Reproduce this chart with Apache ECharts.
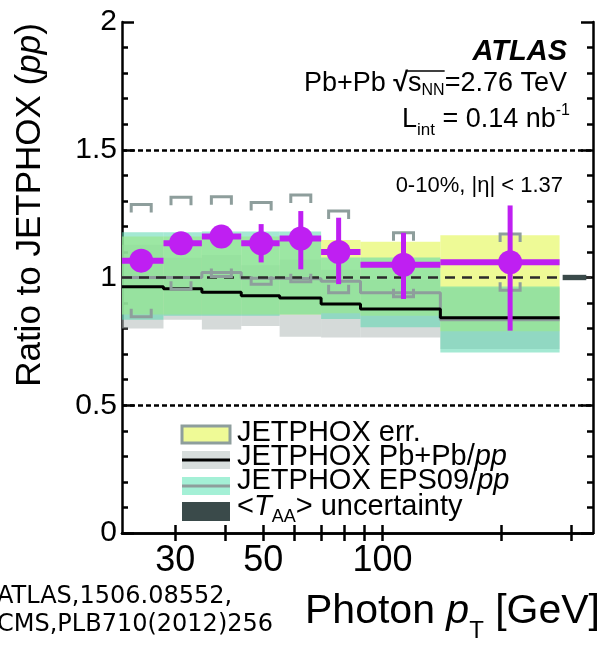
<!DOCTYPE html>
<html>
<head>
<meta charset="utf-8">
<script src="https://cdn.jsdelivr.net/npm/echarts@6/dist/echarts.min.js"></script>
<style>
html,body{margin:0;padding:0;background:#fff;}
#chart{width:601px;height:649px;}
</style>
</head>
<body>
<div id="chart"></div>
<script>
// ---------------- data ----------------
const binLo = [22, 28, 35, 44, 55, 70, 88, 140];
const binHi = [28, 35, 44, 55, 70, 88, 140, 280];
const ptCenter = [24.6, 31.0, 39.2, 49.4, 62.2, 77.5, 113, 210];
const ratio = [1.066, 1.134, 1.160, 1.134, 1.153, 1.100, 1.050, 1.060];
const statUp = [0.03, 0.03, 0.04, 0.075, 0.107, 0.134, 0.125, 0.222];
const statDown = [0.03, 0.03, 0.04, 0.075, 0.121, 0.126, 0.134, 0.268];
const systErr = [0.22, 0.18, 0.156, 0.16, 0.17, 0.16, 0.125, 0.11];

const jpErrLo = [0.855, 0.855, 0.855, 0.855, 0.855, 0.86, 0.85, 0.79];
const jpErrHi = [1.16, 1.16, 1.16, 1.16, 1.16, 1.147, 1.14, 1.165];

const pbpbCentral = [0.964, 0.956, 0.942, 0.929, 0.920, 0.896, 0.877, 0.842];
const pbpbLo = [0.800, 0.835, 0.796, 0.810, 0.768, 0.765, 0.765, 0.72];
const pbpbHi = [1.128, 1.077, 1.088, 1.048, 1.070, 1.030, 0.990, 0.96];

const eps09Central = [1.0, 1.0, 1.02, 0.997, 0.995, 0.985, 0.94, 0.835];
const eps09Lo = [0.835, 0.85, 0.85, 0.85, 0.855, 0.838, 0.805, 0.706];
const eps09Hi = [1.177, 1.177, 1.18, 1.18, 1.18, 1.078, 1.078, 0.965];

const taaRange = [285, 327];
const taaLo = 0.9895, taaHi = 1.0105;

const xLabelValues = [30, 50, 100];
const xTickValues = [30, 40, 50, 60, 70, 80, 90, 100, 200, 300];
const yLevelsDotted = [0.5, 1.5];
const yLevelUnity = 1;

// ---------------- helpers ----------------
const FONT = "'Liberation Sans', Arial, sans-serif";
const measureCtx = document.createElement('canvas').getContext('2d');
function pieces(list, anchorX, y, align, posOut) {
  const widths = list.map(p => { measureCtx.font = p.font; return measureCtx.measureText(p.t).width + (p.gap || 0); });
  const total = widths.reduce((a, b) => a + b, 0);
  let x = align === 'right' ? anchorX - total : align === 'center' ? anchorX - total / 2 : anchorX;
  return list.map((p, i) => {
    const el = { type: 'text', style: { text: p.t, x: x + (p.dx || 0), y: y + (p.dy || 0), font: p.font, fill: p.fill || '#000', textAlign: 'left', textVerticalAlign: 'middle' } };
    if (posOut) posOut.push([x, x + widths[i]]);
    x += widths[i];
    return el;
  });
}

function bandSeries(name, lo, hi, color, z) {
  return {
    name, type: 'custom', z, silent: true,
    data: binLo.map((l, i) => [l, binHi[i], lo[i], hi[i]]),
    encode: { x: [0, 1], y: [2, 3] },
    renderItem: (params, api) => {
      const p0 = api.coord([api.value(0), api.value(3)]);
      const p1 = api.coord([api.value(1), api.value(2)]);
      return { type: 'rect', shape: { x: p0[0], y: p0[1], width: p1[0] - p0[0], height: p1[1] - p0[1] }, style: { fill: color } };
    }
  };
}
function stepData(vals) {
  const d = binLo.map((l, i) => [l, vals[i]]);
  d.push([binHi[binHi.length - 1], vals[vals.length - 1]]);
  return d;
}

const PURPLE = '#BF1FF2';
const BRACKET = '#8E9E9C';

const series = [
  bandSeries('JETPHOX Pb+Pb/pp band', pbpbLo, pbpbHi, 'rgba(178,188,186,0.55)', 1),
  bandSeries('JETPHOX err.', jpErrLo, jpErrHi, 'rgba(232,248,110,0.72)', 2),
  bandSeries('JETPHOX EPS09/pp band', eps09Lo, eps09Hi, 'rgba(90,215,175,0.55)', 3),
  {
    name: 'EPS09 central', type: 'line', z: 4, step: 'end', symbol: 'none', silent: true,
    data: stepData(eps09Central), lineStyle: { color: BRACKET, width: 3 }
  },
  {
    name: 'Pb+Pb central', type: 'line', z: 5, step: 'end', symbol: 'none', silent: true,
    data: stepData(pbpbCentral), lineStyle: { color: '#000', width: 3 }
  },
  {
    name: 'reference lines', type: 'line', z: 6, data: [], silent: true,
    markLine: {
      symbol: 'none', silent: true, label: { show: false },
      data: [
        { yAxis: yLevelUnity, lineStyle: { color: '#2b2b2b', width: 2.5, type: [10, 7] } },
        { yAxis: yLevelsDotted[0], lineStyle: { color: '#000', width: 2.5, type: [5, 3] } },
        { yAxis: yLevelsDotted[1], lineStyle: { color: '#000', width: 2.5, type: [5, 3] } }
      ]
    }
  },
  {
    name: 'TAA uncertainty', type: 'custom', z: 7, silent: true,
    data: [[taaRange[0], taaRange[1], taaLo, taaHi]],
    encode: { x: [0, 1], y: [2, 3] },
    renderItem: (params, api) => {
      const p0 = api.coord([api.value(0), api.value(3)]);
      const p1 = api.coord([api.value(1), api.value(2)]);
      return { type: 'rect', shape: { x: p0[0], y: p0[1], width: p1[0] - p0[0], height: p1[1] - p0[1] }, style: { fill: '#3A4A4A' } };
    }
  },
  {
    name: 'syst', type: 'custom', z: 8, silent: true,
    data: ptCenter.map((c, i) => [c, ratio[i] - systErr[i], ratio[i] + systErr[i]]),
    encode: { x: 0, y: [1, 2] },
    renderItem: (params, api) => {
      const lo = api.coord([api.value(0), api.value(1)]);
      const hi = api.coord([api.value(0), api.value(2)]);
      const bw = 10, leg = 8, x = lo[0];
      const st = { stroke: BRACKET, lineWidth: 3, fill: null };
      return {
        type: 'group', children: [
          { type: 'polyline', shape: { points: [[x - bw, hi[1] + leg], [x - bw, hi[1]], [x + bw, hi[1]], [x + bw, hi[1] + leg]] }, style: st },
          { type: 'polyline', shape: { points: [[x - bw, lo[1] - leg], [x - bw, lo[1]], [x + bw, lo[1]], [x + bw, lo[1] - leg]] }, style: st }
        ]
      };
    }
  },
  {
    name: 'data bars', type: 'custom', z: 9, silent: true,
    data: ptCenter.map((c, i) => [c, binLo[i], binHi[i], ratio[i], ratio[i] - statDown[i], ratio[i] + statUp[i]]),
    encode: { x: [1, 2], y: [4, 5] },
    renderItem: (params, api) => {
      const a = api.coord([api.value(1), api.value(3)]);
      const b = api.coord([api.value(2), api.value(3)]);
      const lo = api.coord([api.value(0), api.value(4)]);
      const hi = api.coord([api.value(0), api.value(5)]);
      return {
        type: 'group', children: [
          { type: 'line', shape: { x1: a[0], y1: a[1], x2: b[0], y2: b[1] }, style: { stroke: PURPLE, lineWidth: 6 } },
          { type: 'line', shape: { x1: lo[0], y1: lo[1], x2: hi[0], y2: hi[1] }, style: { stroke: PURPLE, lineWidth: 5 } }
        ]
      };
    }
  },
  {
    name: 'data', type: 'scatter', z: 10, silent: true,
    symbol: 'circle', symbolSize: 24,
    itemStyle: { color: PURPLE, opacity: 1 },
    data: ptCenter.map((c, i) => [c, ratio[i]])
  }
];

const axisLineStyle = { color: '#000', width: 2.5 };
const xAxisBase = {
  type: 'log', logBase: 10, min: 22, max: 340,
  axisLine: { show: true, lineStyle: axisLineStyle },
  axisTick: { show: true, inside: true, length: 8, customValues: xTickValues, lineStyle: { color: '#000', width: 2.5 } },
  minorTick: { show: false },
  splitLine: { show: false }
};
const yAxisBase = {
  type: 'value', min: 0, max: 2, interval: 0.5,
  axisLine: { show: true, lineStyle: axisLineStyle },
  axisTick: { show: true, inside: true, length: 12, lineStyle: { color: '#000', width: 2.5 } },
  minorTick: { show: true, splitNumber: 5, length: 6, lineStyle: { color: '#000', width: 2.5 } },
  splitLine: { show: false }
};

const graphics = [];
// ATLAS label block
graphics.push(...pieces([{ t: 'ATLAS', font: 'italic bold 29px ' + FONT }], 567, 52, 'right'));
const sqrtPos = [];
graphics.push(...pieces([
  { t: 'Pb+Pb ', font: '27px ' + FONT },
  { t: '\u221A', font: 'bold 27px ' + FONT },
  { t: 's', font: '27px ' + FONT },
  { t: 'NN', font: '16px ' + FONT, dy: 7 },
  { t: '=2.76 TeV', font: '27px ' + FONT }
], 567, 84, 'right', sqrtPos));
graphics.push({ type: 'line', shape: { x1: sqrtPos[1][1] - 2, y1: 71, x2: sqrtPos[3][1], y2: 71 }, style: { stroke: '#000', lineWidth: 1.5 } });
graphics.push(...pieces([
  { t: 'L', font: '27px ' + FONT },
  { t: 'int', font: '17px ' + FONT, dy: 10 },
  { t: ' = 0.14 nb', font: '27px ' + FONT },
  { t: '-1', font: '16px ' + FONT, dy: -9 }
], 570, 120, 'right'));
graphics.push(...pieces([{ t: '0-10%, |\u03B7| < 1.37', font: '22px ' + FONT }], 563, 186, 'right'));

// Legend
const legX = 182, legW = 48, legTextX = 237;
graphics.push({ type: 'rect', shape: { x: legX, y: 426, width: legW, height: 17 }, style: { fill: '#EFFA96', stroke: '#8E9E9C', lineWidth: 3 } });
graphics.push({ type: 'rect', shape: { x: legX, y: 451, width: legW, height: 18 }, style: { fill: '#D7DDDC' } });
graphics.push({ type: 'line', shape: { x1: legX, y1: 460, x2: legX + legW, y2: 460 }, style: { stroke: '#000', lineWidth: 3 } });
graphics.push({ type: 'rect', shape: { x: legX, y: 477, width: legW, height: 18 }, style: { fill: '#A4F0D6' } });
graphics.push({ type: 'line', shape: { x1: legX, y1: 486, x2: legX + legW, y2: 486 }, style: { stroke: '#8E9E9C', lineWidth: 3 } });
graphics.push({ type: 'rect', shape: { x: legX, y: 502, width: legW, height: 19 }, style: { fill: '#3A4A4A' } });
const LF = '29px ' + FONT, LFI = 'italic 29px ' + FONT;
graphics.push(...pieces([{ t: 'JETPHOX err.', font: LF }], legTextX, 433, 'left'));
graphics.push(...pieces([{ t: 'JETPHOX Pb+Pb/', font: LF }, { t: 'pp', font: LFI }], legTextX, 457, 'left'));
graphics.push(...pieces([{ t: 'JETPHOX EPS09/', font: LF }, { t: 'pp', font: LFI }], legTextX, 481, 'left'));
graphics.push(...pieces([
  { t: '<', font: LF },
  { t: 'T', font: LFI },
  { t: 'AA', font: '18px ' + FONT, dy: 10 },
  { t: '> uncertainty', font: LF }
], legTextX, 507, 'left'));

// Axis titles
graphics.push({
  type: 'group', x: 30, y: 205, rotation: Math.PI / 2,
  children: pieces([
    { t: 'Ratio to JETPHOX (', font: '35px ' + FONT },
    { t: 'pp', font: 'italic 35px ' + FONT },
    { t: ')', font: '35px ' + FONT }
  ], 0, 0, 'center')
});
graphics.push(...pieces([
  { t: 'Photon ', font: '41px ' + FONT },
  { t: 'p', font: 'italic 41px ' + FONT },
  { t: 'T', font: '24px ' + FONT, dy: 19 },
  { t: ' [GeV]', font: '41px ' + FONT }
], 600, 612, 'right'));

// citation
graphics.push({ type: 'text', style: { text: 'ATLAS,1506.08552,\nCMS,PLB710(2012)256', x: -3, y: 583, font: "24px 'DejaVu Sans', Verdana, sans-serif", lineHeight: 28, fill: '#000', textAlign: 'left', textVerticalAlign: 'top' } });

const chart = echarts.init(document.getElementById('chart'), null, { renderer: 'canvas' });
chart.setOption({
  animation: false,
  backgroundColor: '#fff',
  grid: { left: 122, right: 8, top: 22, bottom: 116, containLabel: false },
  xAxis: [
    Object.assign({}, xAxisBase, {
      position: 'bottom',
      axisLabel: { show: true, customValues: xLabelValues, fontSize: 36, fontFamily: FONT, color: '#000', margin: 10, formatter: v => String(v) }
    }),
    Object.assign({}, xAxisBase, { position: 'top', axisLabel: { show: false } })
  ],
  yAxis: [
    Object.assign({}, yAxisBase, {
      position: 'left',
      axisLabel: { show: true, fontSize: 30, fontFamily: FONT, color: '#000', margin: 5 }
    }),
    Object.assign({}, yAxisBase, { position: 'right', axisLabel: { show: false } })
  ],
  series: series,
  graphic: graphics
});
</script>
</body>
</html>
